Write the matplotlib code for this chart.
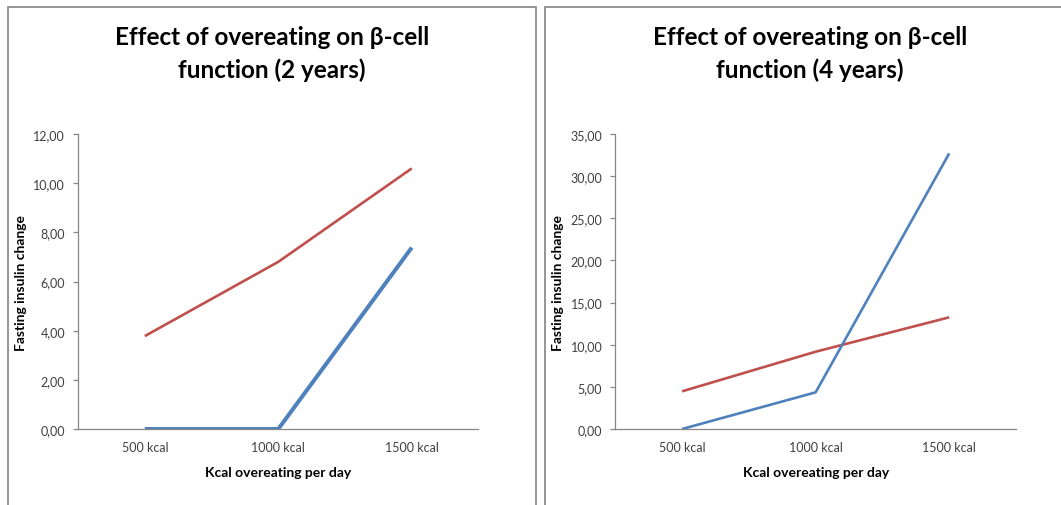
import matplotlib
matplotlib.use("Agg")
import matplotlib.pyplot as plt
from matplotlib.patches import Rectangle
from matplotlib.ticker import FuncFormatter

plt.rcParams['font.family'] = ['Lato', 'DejaVu Sans']

categories = ["500 kcal", "1000 kcal", "1500 kcal"]
blue_2y = [0.0, 0.0, 7.38]
red_2y = [3.78, 6.80, 10.60]
blue_4y = [0.0, 4.35, 32.70]
red_4y = [4.47, 9.17, 13.25]
titles = ["Effect of overeating on β-cell\nfunction (2 years)",
          "Effect of overeating on β-cell\nfunction (4 years)"]
xlabel = "Kcal overeating per day"
ylabel = "Fasting insulin change"

W, H = 1061, 506
fig = plt.figure(figsize=(W / 100, H / 100), dpi=100)

BLUE = "#4F81BD"
RED = "#C0504D"
GRID = "#868686"
TXT = "#404040"


def px(x, y, w, h):
    return [x / W, 1 - (y + h) / H, w / W, h / H]


# panel frames
fig.patches.append(Rectangle((7.6 / W, -0.05), (535.7 - 7.6) / W, 1 - 8 / H + 0.05,
                             transform=fig.transFigure, fill=False,
                             edgecolor="#8c8c8c", linewidth=1.3))
fig.patches.append(Rectangle((544.5 / W, -0.05), 0.6, 1 - 8 / H + 0.05,
                             transform=fig.transFigure, fill=False,
                             edgecolor="#8c8c8c", linewidth=1.3))

fmt = FuncFormatter(lambda v, p: f"{v:.2f}".replace(".", ","))

panels = [
    dict(rect=px(78.1, 135, 400.4, 295), blue=blue_2y, red=red_2y, ymax=12, step=2,
         bw=2.9, rw=1.9, title=titles[0], tx=272, ylx=20.8, xlx=278.6),
    dict(rect=px(615.3, 135, 400.7, 295), blue=blue_4y, red=red_4y, ymax=35, step=5,
         bw=1.9, rw=1.9, title=titles[1], tx=810, ylx=558.3, xlx=815.8),
]

for p in panels:
    ax = fig.add_axes(p["rect"])
    x = list(range(len(categories)))
    ax.plot(x, p["red"], color=RED, linewidth=p["rw"], solid_capstyle="butt")
    ax.plot(x, p["blue"], color=BLUE, linewidth=p["bw"], solid_capstyle="butt")
    ax.set_xlim(-0.5, len(categories) - 0.5)
    ax.set_ylim(0, p["ymax"])
    ax.set_yticks(list(range(0, p["ymax"] + 1, p["step"])))
    ax.yaxis.set_major_formatter(fmt)
    ax.set_xticks(x)
    ax.set_xticklabels(categories)
    for s in ["top", "right"]:
        ax.spines[s].set_visible(False)
    for s in ["left", "bottom"]:
        ax.spines[s].set_color(GRID)
        ax.spines[s].set_linewidth(0.9)
    ax.tick_params(axis="y", length=3.6, width=0.9, color=GRID, pad=5.8,
                   labelsize=9, labelcolor=TXT)
    ax.tick_params(axis="x", length=0, pad=9, labelsize=9, labelcolor=TXT)
    ax.set_facecolor("none")
    fig.text(p["tx"] / W, 1 - 54 / H, p["title"], ha="center", va="center",
             fontsize=17.5, fontweight="bold", linespacing=1.5, color="black")
    fig.text(p["ylx"] / W, 1 - 283 / H, ylabel, rotation=90, ha="center", va="center",
             fontsize=10, fontweight="bold", color="black")
    fig.text(p["xlx"] / W, 1 - 472.7 / H, xlabel, ha="center", va="center",
             fontsize=10, fontweight="bold", color="black")

fig.savefig("out.png", dpi=100)
